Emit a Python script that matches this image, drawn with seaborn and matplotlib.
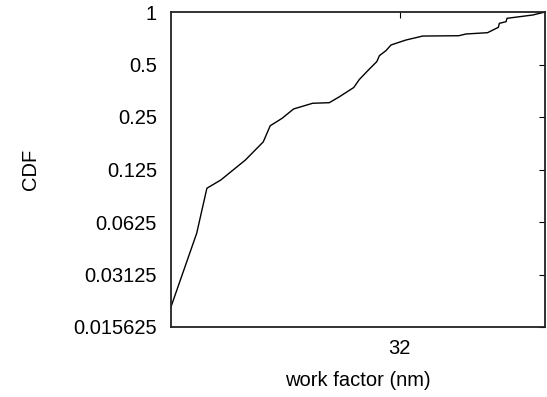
import matplotlib
matplotlib.use("Agg")
import matplotlib.pyplot as plt
import seaborn as sns
import pandas as pd
from matplotlib.ticker import FixedLocator, FixedFormatter, NullLocator

work_factor = [18.0, 19.2, 19.7, 20.4, 21.7, 22.7, 23.1, 23.8, 24.5, 25.7,
               26.8, 27.5, 28.5, 28.9, 29.7, 30.2, 30.4, 30.9, 31.3, 32.5,
               33.9, 37.1, 37.8, 39.9, 41.0, 41.1, 41.8, 41.9, 44.7, 46.1]
cdf = [0.0204, 0.0538, 0.0976, 0.1088, 0.1416, 0.180, 0.2227, 0.2457, 0.278, 0.2997,
       0.302, 0.327, 0.369, 0.410, 0.476, 0.519, 0.562, 0.600, 0.647, 0.691,
       0.728, 0.731, 0.748, 0.761, 0.817, 0.861, 0.880, 0.920, 0.961, 1.0]
y_ticks = [0.015625, 0.03125, 0.0625, 0.125, 0.25, 0.5, 1]
y_tick_labels = ["0.015625", "0.03125", "0.0625", "0.125", "0.25", "0.5", "1"]
x_ticks = [32]
x_tick_labels = ["32"]

sns.set_theme(style="white")
plt.rcParams["font.family"] = ["Liberation Sans", "DejaVu Sans"]

df = pd.DataFrame({"work factor": work_factor, "CDF": cdf})

fig = plt.figure(figsize=(5.47, 3.97), dpi=100)
ax = fig.add_axes([171 / 547, 70 / 397, 374 / 547, 315 / 397])
sns.lineplot(data=df, x="work factor", y="CDF", sort=False, color="black",
             linewidth=1.0, ax=ax)

ax.set_xscale("log", base=2)
ax.set_yscale("log", base=2)
ax.set_xlim(18.0, 46.1)
ax.set_ylim(0.015625, 1)

ax.xaxis.set_major_locator(FixedLocator(x_ticks))
ax.xaxis.set_major_formatter(FixedFormatter(x_tick_labels))
ax.xaxis.set_minor_locator(NullLocator())
ax.yaxis.set_major_locator(FixedLocator(y_ticks))
ax.yaxis.set_major_formatter(FixedFormatter(y_tick_labels))
ax.yaxis.set_minor_locator(NullLocator())

ax.tick_params(axis="both", which="major", direction="in", length=4, width=0.8,
               color="black", top=True, right=True, labelsize=14.5,
               labelcolor="black")
ax.tick_params(axis="y", pad=10)
ax.tick_params(axis="x", pad=9)

for s in ax.spines.values():
    s.set_color("#222222")
    s.set_linewidth(1.3)
    s.set_visible(True)

ax.set_xlabel("work factor (nm)", fontsize=14.5, color="black", labelpad=9)
ax.set_ylabel("CDF", fontsize=14.5, color="black", labelpad=24)
ax.grid(False)

fig.savefig("out.png", dpi=100)
